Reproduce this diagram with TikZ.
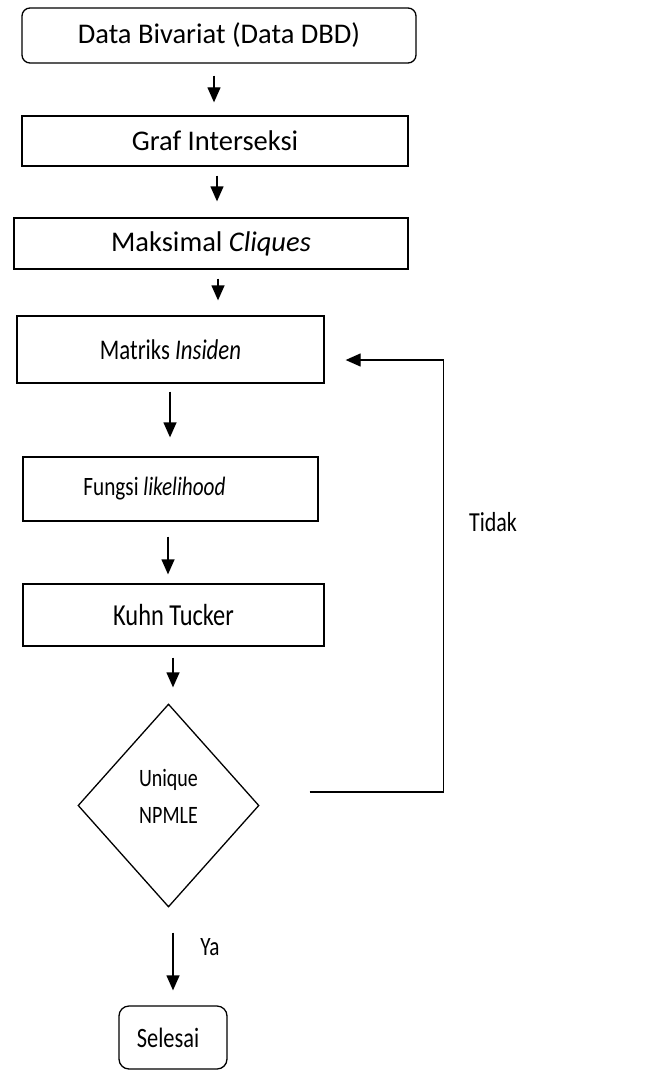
\documentclass[tikz,border=0pt]{standalone}
\usepackage{fontspec}
\setmainfont{Carlito}
\newfontfamily\narrowfont[FakeStretch=0.8]{Carlito}
\usetikzlibrary{calc}
\usetikzlibrary{shapes.geometric,arrows.meta}
\tikzset{
  box/.style={draw,line width=1.3pt,inner sep=0pt,minimum width=#1},
  widetxt/.style={font=\fontsize{28.5}{34}\selectfont},
  narrowtxt/.style={font=\narrowfont\fontsize{#1}{34}\selectfont},
  decision/.style={draw,diamond,line width=1.3pt,inner sep=0pt,
    minimum width=181pt,minimum height=203pt,align=center,
    font=\narrowfont\fontsize{25}{37}\selectfont},
  flow/.style={line width=1.3pt,-{Triangle[length=15pt,width=13pt]}},
}
\newcommand{\ver}[2]{\coordinate (#1) at (#2);}

\begin{document}
\begin{tikzpicture}[x=1pt,y=-1pt]
    \useasboundingbox (0,0) rectangle (670,1070);
      \node[box=394pt,minimum height=55pt,rounded corners=8pt,widetxt] (data) at (219,35.5) {Data Bivariat (Data DBD)};
      \node[box=386pt,minimum height=50pt,widetxt] (graf) at (215,141) {Graf Interseksi};
      \node[box=394pt,minimum height=51pt,widetxt] (clq) at (211,243.5) {Maksimal \textit{Cliques}};
      \node[box=307pt,minimum height=67pt,narrowtxt=28.5] (ins) at (170.5,349.5) {Matriks \textit{Insiden}};
      \node[box=295pt,minimum height=64pt,narrowtxt=26.5] (lik) at (170.5,489) {\hspace*{-32pt}Fungsi \textit{likelihood}};
      \node[box=301pt,minimum height=62pt,narrowtxt=30.5] (kt) at (173.5,615) {Kuhn Tucker};
      \node[decision] (npmle) at (168.5,805.5) {Unique\\NPMLE\rule[-18pt]{0pt}{18pt}};
      \node[box=108pt,minimum height=63pt,rounded corners=10pt,narrowtxt=28] (end) at (173,1037.5) {\hspace*{-10pt}Selesai};
      \node[narrowtxt=27.5] (tidak) at (493,522) {Tidak};
      \node[narrowtxt=26.5] (ya) at (210,947) {Ya};

      \ver{a1}{$(data.south)+(-5,12)$};
      \ver{a2}{$(graf.south)+(2,9)$};
      \ver{a3}{$(clq.south)+(7,9)$};
      \ver{a4}{$(ins.south)+(-0.5,8)$};
      \ver{a5}{$(lik.south)+(-2.5,15)$};
      \ver{a6}{$(kt.south)+(-0.5,11)$};
      \ver{a7}{$(npmle.south)+(4.5,25)$};
      \ver{fb}{$(npmle.east)+(50,-13.5)$};
      \ver{back}{$(ins.east)+(21,10.5)$};

      \draw[flow] (a1) -- ($(a1 |- graf.north)+(0,-13)$);
      \draw[flow] (a2) -- ($(a2 |- clq.north)+(0,-16)$);
      \draw[flow] (a3) -- ($(a3 |- ins.north)+(0,-15)$);
      \draw[flow] (a4) -- ($(a4 |- lik.north)+(0,-19)$);
      \draw[flow] (a5) -- ($(a5 |- kt.north)+(0,-9)$);
      \draw[flow] (a6) -- ($(a6 |- npmle.north)+(0,-16)$);
      \draw[flow] (a7) -- ($(a7 |- end.north)+(0,-15)$);
      \draw[flow] (fb) -- ++(134,0) |- (back);
\end{tikzpicture}
\end{document}
